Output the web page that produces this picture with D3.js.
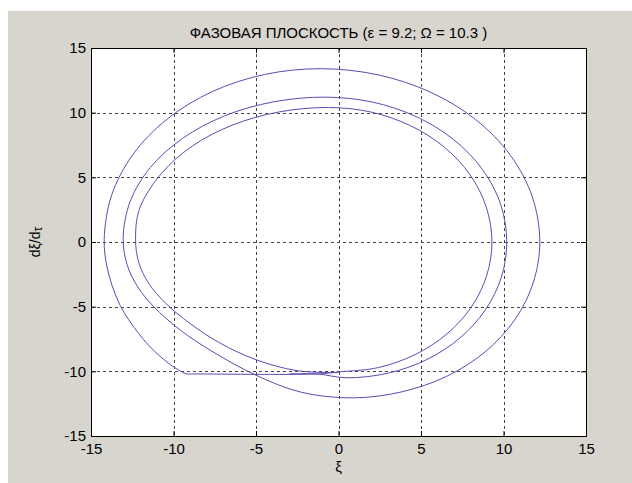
<!DOCTYPE html>
<html>
<head>
<meta charset="utf-8">
<script src="https://cdn.jsdelivr.net/npm/d3@7"></script>
<style>
    body { margin: 0; background: #fff; }
    svg { display: block; font-family: "Liberation Sans", Arial, sans-serif; }
</style>
</head>
<body>
<svg width="632" height="483"></svg>
<script>
    // axis ticks
    var xTicks = [-15, -10, -5, 0, 5, 10, 15];
    var yTicks = [-15, -10, -5, 0, 5, 10, 15];

    // phase trajectory (xi, dxi/dtau)
    var xi = [
        0.0, -2.5, -5.0, -7.2, -9.0, -10.5, -11.5, -12.1, -12.3,
        -12.05, -10.73, -8.87, -6.45, -3.63, -0.6,
        1.96, 4.35, 6.4, 7.97, 8.96, 9.3,
        8.98, 8.05, 6.58, 4.65, 2.41, 0.0,
        -1.3, -8.9, -9.2,
        -9.55, -10.28, -11.5, -12.72, -13.38, -14.0, -14.2,
        -13.75, -12.44, -10.36, -7.65, -4.49, -1.1,
        2.34, 5.55, 8.3, 10.42, 11.75, 12.2,
        11.81, 10.69, 8.89, 6.55, 3.82, 0.9,
        -2.3, -5.0, -7.6, -9.6, -11.2, -12.15, -12.8, -13.05,
        -12.63, -11.41, -9.46, -6.93, -3.97, -0.8,
        2.05, 4.7, 6.98, 8.73, 9.83, 10.2,
        9.87, 8.9, 7.36, 5.35, 3.01, 0.5,
        -1.3, -3.0
    ];
    var dxi = [
        -10.1, -9.95, -9.1, -7.8, -6.3, -4.7, -3.2, -1.6, 0.2,
        2.6, 5.3, 7.41, 9.03, 10.05, 10.4,
        10.05, 9.0, 7.35, 5.2, 2.69, 0.0,
        -2.6, -5.03, -7.1, -8.7, -9.71, -10.05,
        -10.2, -10.2, -10.2,
        -10.0, -9.4, -8.0, -6.0, -4.5, -2.1, 0.2,
        3.62, 6.8, 9.53, 11.63, 12.95, 13.4,
        12.94, 11.6, 9.48, 6.7, 3.47, 0.0,
        -3.11, -6.0, -8.49, -10.39, -11.59, -12.05,
        -11.6, -10.3, -8.5, -6.8, -5.0, -3.5, -1.8, 0.3,
        3.12, 5.75, 8.0, 9.74, 10.83, 11.2,
        10.82, 9.7, 7.92, 5.6, 2.9, 0.0,
        -2.72, -5.25, -7.42, -9.09, -10.14, -10.5,
        -10.2, -10.2
    ];

    var title = "ФАЗОВАЯ ПЛОСКОСТЬ (ε = 9.2; Ω = 10.3 )";

    var svg = d3.select("svg"),
        margin = {top: 48, right: 46, bottom: 47, left: 91},
        width = 586 - margin.left,
        height = 436 - margin.top;

    // grey figure background
    svg.append("rect")
        .attr("x", 8).attr("y", 11)
        .attr("width", 632 - 8).attr("height", 483 - 11)
        .attr("fill", "#d8d4ce");

    var g = svg.append("g").attr("transform", "translate(" + margin.left + "," + margin.top + ")");

    var x = d3.scaleLinear().domain([-15, 15]).range([0, width]);
    var y = d3.scaleLinear().domain([-15, 15]).range([height, 0]);

    g.append("rect")
        .attr("width", width).attr("height", height)
        .attr("fill", "#fff");

    // grid
    g.append("g").selectAll("line")
        .data(xTicks.slice(1, -1))
        .enter().append("line")
        .attr("x1", function(d) { return Math.round(x(d)) + 0.5; })
        .attr("x2", function(d) { return Math.round(x(d)) + 0.5; })
        .attr("y1", 0).attr("y2", height)
        .attr("stroke", "#444").attr("stroke-dasharray", "3,3");
    g.append("g").selectAll("line")
        .data(yTicks.slice(1, -1))
        .enter().append("line")
        .attr("y1", function(d) { return Math.round(y(d)) + 0.5; })
        .attr("y2", function(d) { return Math.round(y(d)) + 0.5; })
        .attr("x1", 0).attr("x2", width)
        .attr("stroke", "#444").attr("stroke-dasharray", "3,3");

    // trajectory
    var pts = xi.map(function(d, i) { return [d, dxi[i]]; });
    var line = d3.line()
        .x(function(d) { return x(d[0]); })
        .y(function(d) { return y(d[1]); })
        .curve(d3.curveCatmullRom.alpha(0.5));
    g.append("path")
        .datum(pts)
        .attr("d", line)
        .attr("fill", "none")
        .attr("stroke", "#5a4db3")
        .attr("stroke-width", 1);

    // axes box
    var fmt = function(d) { return String(d); };
    g.append("g")
        .attr("class", "axis")
        .attr("transform", "translate(0," + height + ")")
        .call(d3.axisBottom(x).tickValues(xTicks).tickSize(-5).tickPadding(7).tickFormat(fmt));
    g.append("g")
        .attr("class", "axis")
        .call(d3.axisLeft(y).tickValues(yTicks).tickSize(-5).tickPadding(5).tickFormat(fmt));
    g.append("g")
        .call(d3.axisTop(x).tickValues(xTicks).tickSize(-5).tickFormat(""));
    g.append("g")
        .attr("transform", "translate(" + width + ",0)")
        .call(d3.axisRight(y).tickValues(yTicks).tickSize(-5).tickFormat(""));

    g.selectAll(".domain").attr("stroke", "#000");
    g.selectAll(".tick line").attr("stroke", "#000");
    g.selectAll(".axis text")
        .attr("font-family", "Liberation Sans, Arial, sans-serif")
        .attr("font-size", 15)
        .attr("fill", "#000");

    // title and labels
    svg.append("text")
        .attr("x", margin.left + width / 2)
        .attr("y", 38)
        .attr("text-anchor", "middle")
        .attr("font-size", 15)
        .text(title);

    svg.append("text")
        .attr("x", margin.left + width / 2)
        .attr("y", 472)
        .attr("text-anchor", "middle")
        .attr("font-size", 15)
        .text("ξ");

    var yl = svg.append("text")
        .attr("transform", "translate(40," + (margin.top + height / 2) + ") rotate(-90)")
        .attr("text-anchor", "middle")
        .attr("font-size", 14);
    yl.append("tspan").text("dξ/d");
    yl.append("tspan").attr("font-size", 12).attr("dy", 2).text("τ");
</script>
</body>
</html>
